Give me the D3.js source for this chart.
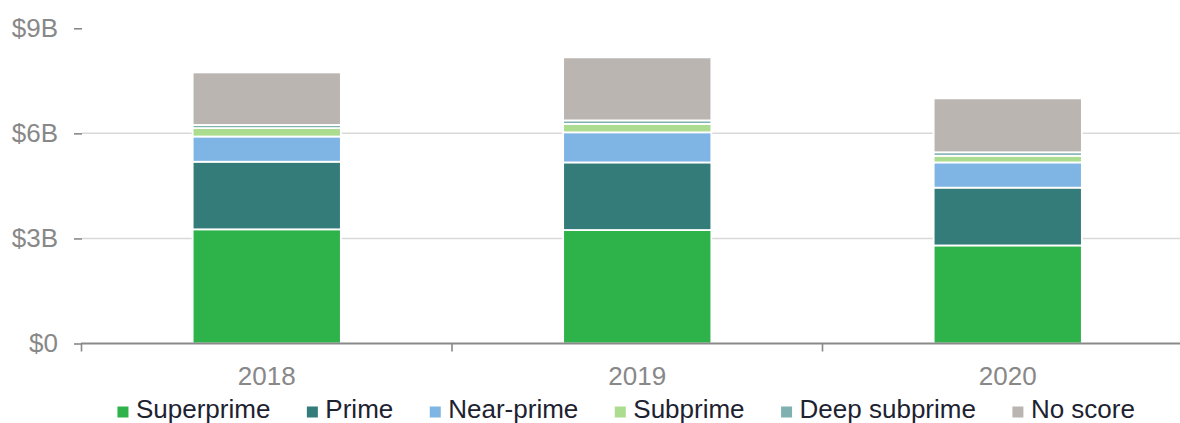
<!DOCTYPE html>
<html>
<head>
<meta charset="utf-8">
<script src="https://cdn.jsdelivr.net/npm/d3@7"></script>
<style>
  html, body { margin: 0; padding: 0; background: #fff; }
  svg { display: block; font-family: "Liberation Sans", Arial, sans-serif; }
</style>
</head>
<body>
<svg id="chart" width="1180" height="423"></svg>
<script>
// Loan originations by credit score tier, in billions of dollars
const years = ["2018", "2019", "2020"];
const tiers = ["Superprime", "Prime", "Near-prime", "Subprime", "Deep subprime", "No score"];
const superprime   = [3.26, 3.24, 2.80];
const prime        = [1.93, 1.93, 1.65];
const nearPrime    = [0.72, 0.86, 0.72];
const subprime     = [0.24, 0.24, 0.19];
const deepSubprime = [0.09, 0.10, 0.10];
const noScore      = [1.50, 1.80, 1.54];
const yTicks = [0, 3, 6, 9];
const yTickLabels = ["$0", "$3B", "$6B", "$9B"];
const tierColors = ["#2eb34b", "#337c7a", "#7fb5e4", "#acdc8f", "#7fb1b0", "#bab5b1"];

const seriesValues = [superprime, prime, nearPrime, subprime, deepSubprime, noScore];
const rows = years.map((yr, i) => {
  const r = { year: yr };
  tiers.forEach((t, k) => { r[t] = seriesValues[k][i]; });
  return r;
});

const svg = d3.select("#chart");
const axisGray = "#898989";

const x = d3.scaleBand().domain(years).range([81.5, 1193]).paddingInner(0.6).paddingOuter(0.3);
const y = d3.scaleLinear().domain([0, 9]).range([343.5, 28.3]);
const color = d3.scaleOrdinal().domain(tiers).range(tierColors);

// Horizontal gridlines (interior ticks only)
svg.append("g")
  .selectAll("line")
  .data(yTicks.filter(d => d > 0 && d < 9))
  .join("line")
  .attr("x1", 82).attr("x2", 1180)
  .attr("y1", d => y(d)).attr("y2", d => y(d))
  .attr("stroke", "#d9d9d9").attr("stroke-width", 1.5);

// Y axis: short tick dashes and dollar labels
const yAxis = d3.axisLeft(y).tickValues(yTicks)
  .tickFormat((d, i) => yTickLabels[i]).tickSize(8).tickPadding(16);
const gy = svg.append("g").attr("transform", "translate(82,0)").call(yAxis);
gy.select(".domain").remove();
gy.selectAll(".tick line").attr("stroke", axisGray).attr("stroke-width", 1.6);
gy.selectAll(".tick text")
  .attr("fill", "#888").style("font-size", "26px")
  .style("font-family", "'Liberation Sans', Arial, sans-serif");

// Stacked bars
const stacked = d3.stack().keys(tiers)(rows);
svg.append("g")
  .selectAll("g")
  .data(stacked)
  .join("g")
  .attr("fill", d => color(d.key))
  .selectAll("rect")
  .data(d => d)
  .join("rect")
  .attr("x", d => x(d.data.year))
  .attr("width", x.bandwidth())
  .attr("y", d => y(d[1]))
  .attr("height", d => y(d[0]) - y(d[1]))
  .attr("stroke", "#fff").attr("stroke-width", 1.8);

// X axis baseline with ticks at category boundaries
const step = x.step();
const boundaries = [0, 1, 2, 3].map(i => x.range()[0] + i * step);
svg.append("line")
  .attr("x1", 81).attr("x2", 1180)
  .attr("y1", y(0)).attr("y2", y(0))
  .attr("stroke", axisGray).attr("stroke-width", 1.8);
svg.append("g")
  .selectAll("line")
  .data(boundaries)
  .join("line")
  .attr("x1", d => d).attr("x2", d => d)
  .attr("y1", y(0)).attr("y2", y(0) + 8)
  .attr("stroke", axisGray).attr("stroke-width", 1.6);

svg.append("g")
  .selectAll("text")
  .data(years)
  .join("text")
  .attr("x", d => x(d) + x.bandwidth() / 2)
  .attr("y", 385)
  .attr("text-anchor", "middle")
  .attr("fill", "#888")
  .style("font-size", "26px")
  .text(d => d);

// Legend, laid out from measured label widths and centred
const legend = svg.append("g");
const items = legend.selectAll("g")
  .data(tiers)
  .join("g");
items.append("rect")
  .attr("width", 11).attr("height", 11)
  .attr("y", 406.5)
  .attr("fill", d => color(d));
items.append("text")
  .attr("x", 18.5).attr("y", 418)
  .attr("fill", "#1d2230")
  .style("font-size", "26px")
  .text(d => d);

const gapAfter = 36.5;
let cursor = 0;
const offsets = [];
items.each(function () {
  const w = d3.select(this).select("text").node().getComputedTextLength();
  offsets.push(cursor);
  cursor += 18.5 + w + gapAfter;
});
const totalWidth = cursor - gapAfter;
const startX = 626.2 - totalWidth / 2;
items.attr("transform", (d, i) => `translate(${startX + offsets[i]},0)`);
</script>
</body>
</html>
